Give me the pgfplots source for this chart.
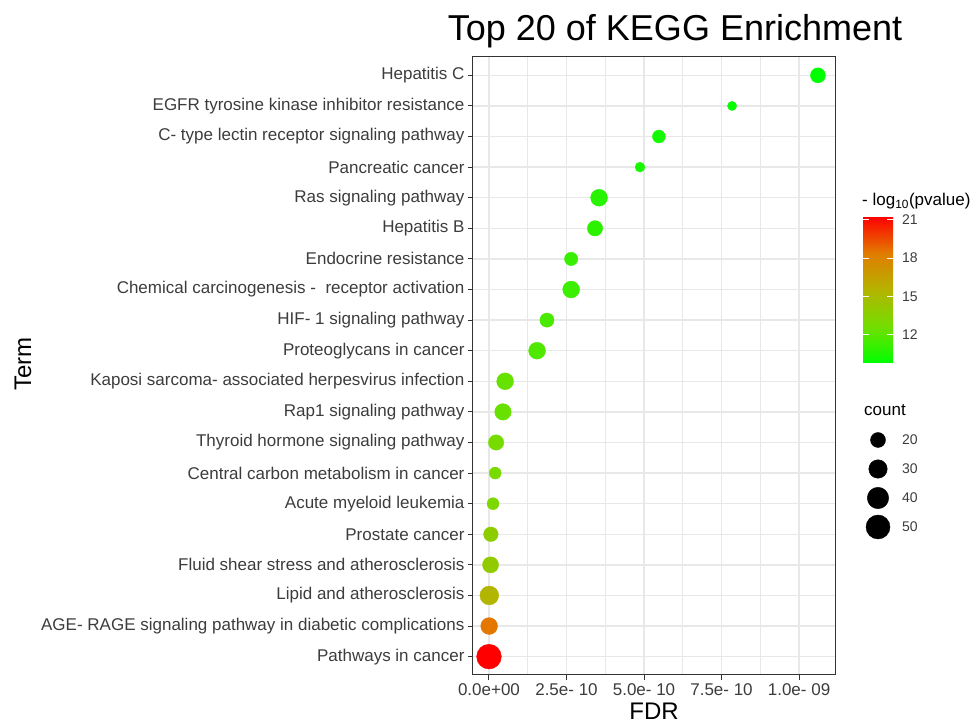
\documentclass[border=0pt]{standalone}
\usepackage{pgfplots}
\pgfplotsset{compat=1.18}
\usepackage{pgfplotstable}
\usepackage{fontspec}
\setmainfont{Liberation Sans}
\definecolor{gridc}{RGB}{232,232,232}
\definecolor{txt}{RGB}{60,60,60}
\definecolor{frame}{RGB}{51,51,51}
\pgfplotsset{colormap={gr}{rgb255=(0,255,0) rgb255=(115,222,0) rgb255=(180,180,0) rgb255=(225,125,0) rgb255=(255,0,0)}}
\pgfplotstableread{
y fdr logp count
20 1.061e-9 9.8 20
19 0.784e-9 10.0 8
18 0.548e-9 10.3 15
17 0.487e-9 10.4 9
16 0.355e-9 10.8 25
15 0.342e-9 10.9 21
14 0.265e-9 11.2 16
13 0.265e-9 11.3 25
12 0.187e-9 11.6 18
11 0.155e-9 11.8 25
10 0.052e-9 12.3 25
9 0.045e-9 12.4 24
8 0.023e-9 12.8 21
7 0.020e-9 12.9 13
6 0.013e-9 13.1 13
5 0.006e-9 13.8 19
4 0.005e-9 14.0 23
3 0.001e-9 15.4 31
2 0.0005e-9 18.5 25
1 1e-21 21.2 53
}\datatable
\begin{document}
\begin{tikzpicture}[x=1pt,y=1pt]
\path[use as bounding box] (0,0) rectangle (972,723);
\begin{axis}[
 at={(473pt,48pt)}, anchor=south west, scale only axis, width=362pt, height=618pt,
 xmin=-0.516e-10, xmax=11.16e-10, ymin=0.4, ymax=20.6,
 axis line style={frame, line width=1pt},
 xtick={0,2.5e-10,5e-10,7.5e-10,1e-9},
 xticklabels={0.0e+00, 2.5e- 10, 5.0e- 10, 7.5e- 10, 1.0e- 09},
 minor xtick={1.25e-10,3.75e-10,6.25e-10,8.75e-10},
 scaled x ticks=false,
 ytick={1,...,20},
 yticklabels={Pathways in cancer, AGE- RAGE signaling pathway in diabetic complications, Lipid and atherosclerosis, Fluid shear stress and atherosclerosis, Prostate cancer, Acute myeloid leukemia, Central carbon metabolism in cancer, Thyroid hormone signaling pathway, Rap1 signaling pathway, Kaposi sarcoma- associated herpesvirus infection, Proteoglycans in cancer, HIF- 1 signaling pathway, {Chemical carcinogenesis -\ \ receptor activation}, Endocrine resistance, Hepatitis B, Ras signaling pathway, Pancreatic cancer, C- type lectin receptor signaling pathway, EGFR tyrosine kinase inhibitor resistance, Hepatitis C},
 grid=both, major grid style={gridc, line width=1.5pt}, minor grid style={gridc, line width=0.9pt},
 tick align=outside, xtick pos=bottom, ytick pos=left, major tick length=5pt, minor tick length=0pt,
 tick style={frame, line width=1pt},
 ticklabel style={font=\fontsize{17}{20}\selectfont, text=txt},
 colorbar, colormap name=gr, point meta min=9.8, point meta max=21.2,
 colorbar shift/.style={},
 colorbar/width=30pt,
 colorbar style={at={(parent axis.north east)}, anchor=north west, xshift=28pt, yshift=-160pt,
   scale only axis, width=30pt, height=146pt, ytick={12,15,18,21},
   ytick align=inside, ytick pos=both, yticklabel pos=right, major tick length=6pt,
   ytick style={white, line width=0.8pt}, axis line style={draw=none},
   yticklabel style={font=\fontsize{14}{16}\selectfont, text=txt, inner sep=0pt, xshift=9pt},
   /pgf/number format/assume math mode=true},
]
\addplot[scatter, only marks, mark=*, point meta=explicit,
 scatter/use mapped color={draw=mapped color, fill=mapped color},
 visualization depends on={\thisrow{count} \as \cnt},
 scatter/@pre marker code/.append style={/tikz/mark size={sqrt(11.7*\cnt-9)/2}}]
 table[x=fdr, y=y, meta=logp] \datatable;
\end{axis}
\begin{axis}[at={(850pt,178pt)}, anchor=south west, scale only axis, width=100pt, height=130pt,
 xmin=850, xmax=950, ymin=178, ymax=308, hide axis, clip=false]
\addplot[scatter, only marks, mark=*,
 scatter/use mapped color={draw=black, fill=black},
 visualization depends on={\thisrow{count} \as \cnt},
 scatter/@pre marker code/.append style={/tikz/mark size={sqrt(11.7*\cnt-9)/2}}]
 table[x=x, y=y] {
x y count
878 283 20
878 254 30
878 225 40
878 196 50
};
\foreach \v/\yy in {20/283,30/254,40/225,50/196}{
 \edef\temp{\noexpand\node[anchor=west, inner sep=0pt, font=\noexpand\fontsize{14}{16}\noexpand\selectfont, text=txt] at (axis cs:902,\yy) {\v};}
 \temp
}
\end{axis}
\node[anchor=base, font=\fontsize{36}{40}\selectfont] at (675,682) {Top 20 of KEGG Enrichment};
\node[anchor=base, inner sep=0pt, font=\fontsize{24}{28}\selectfont] at (654,4) {FDR};
\node[anchor=base, inner sep=0pt, rotate=90, font=\fontsize{24}{28}\selectfont] at (31,359) {Term};
\node[anchor=base west, inner sep=0pt, font=\fontsize{17}{20}\selectfont] at (862,517) {- log\textsubscript{10}(pvalue)};
\node[anchor=base west, inner sep=0pt, font=\fontsize{17}{20}\selectfont] at (864,307) {count};
\end{tikzpicture}
\end{document}
